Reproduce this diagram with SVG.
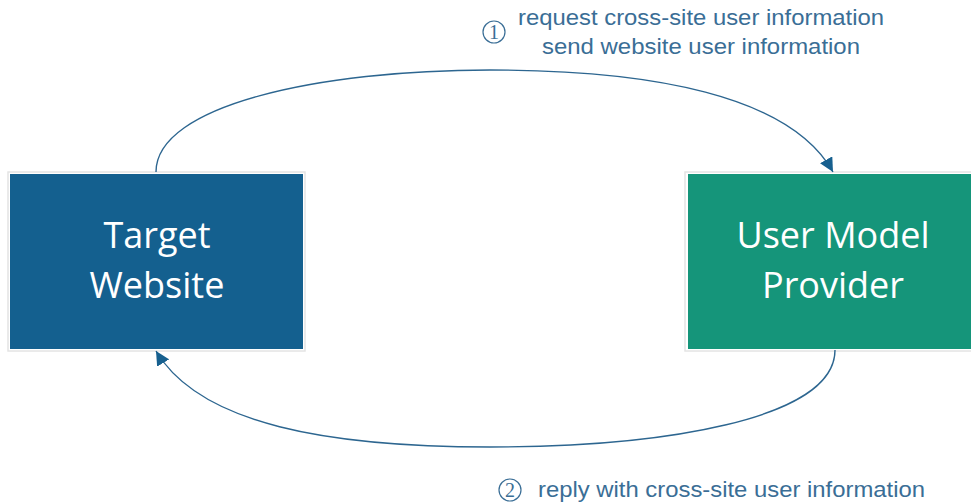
<svg xmlns="http://www.w3.org/2000/svg" width="971" height="504" viewBox="0 0 971 504">
  <style>
    .box-label { font-family: "Open Sans", "Liberation Sans", sans-serif; font-size: 36px; fill: #ffffff; text-anchor: middle; }
    .edge { fill: none; stroke: #2d6690; stroke-width: 1.4; }
    .edge-label { font-family: "Liberation Sans", Arial, sans-serif; font-size: 21.5px; fill: #3a6e96; }
    .step { fill: none; stroke: #3a6e96; stroke-width: 1.2; }
    .step-num { font-family: "Liberation Serif", serif; font-size: 20px; fill: #3a6e96; text-anchor: middle; }
  </style>
  <defs>
    <marker id="arrow" viewBox="0 0 10 10" refX="10" refY="5" markerWidth="14" markerHeight="14" markerUnits="userSpaceOnUse" orient="auto">
      <path d="M0,0 L10,5 L0,10 z" fill="#17608f"/>
    </marker>
  </defs>

  <rect width="971" height="504" fill="#ffffff"/>

  <g id="target-website">
    <rect x="8" y="172" width="297" height="179" fill="none" stroke="#e4e4e4" stroke-width="1.5"/>
    <rect x="10" y="174" width="293" height="175" fill="#14608f"/>
    <text class="box-label" x="157" y="248">Target</text>
    <text class="box-label" x="157" y="298">Website</text>
  </g>

  <g id="user-model-provider">
    <rect x="685" y="172" width="290" height="179" fill="none" stroke="#e4e4e4" stroke-width="1.5"/>
    <rect x="688" y="174" width="283" height="175" fill="#15957a"/>
    <text class="box-label" x="833" y="248">User Model</text>
    <text class="box-label" x="833" y="298">Provider</text>
  </g>

  <g id="connectors">
    <path class="edge" d="M156,172 C156,105 320,70 490,70 C650,70 790,95 833,172" marker-end="url(#arrow)"/>
    <path class="edge" d="M835,350 C835,420 660,447 490,447 C330,447 200,425 156,351" marker-end="url(#arrow)"/>
  </g>

  <g id="label-request">
    <circle class="step" cx="494" cy="32" r="11"/>
    <text class="step-num" x="494" y="39">1</text>
    <text class="edge-label" x="518" y="25" textLength="366" lengthAdjust="spacingAndGlyphs">request cross-site user information</text>
    <text class="edge-label" x="542" y="54" textLength="318" lengthAdjust="spacingAndGlyphs">send website user information</text>
  </g>

  <g id="label-reply">
    <circle class="step" cx="510" cy="490" r="11"/>
    <text class="step-num" x="510" y="497">2</text>
    <text class="edge-label" x="538" y="497" textLength="387" lengthAdjust="spacingAndGlyphs">reply with cross-site user information</text>
  </g>
</svg>
